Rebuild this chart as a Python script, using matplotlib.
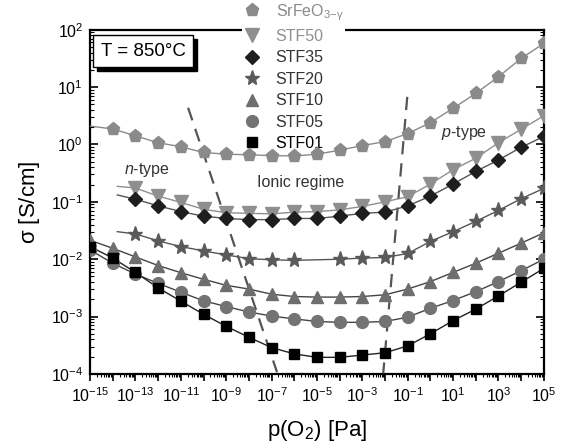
import numpy as np
import matplotlib
matplotlib.use("Agg")
import matplotlib.pyplot as plt
from matplotlib.patches import Rectangle
from matplotlib.ticker import LogLocator, NullFormatter

plt.rcParams["font.family"] = ["Liberation Sans", "DejaVu Sans"]
plt.rcParams["mathtext.fontset"] = "custom"
plt.rcParams["mathtext.rm"] = "Liberation Sans"
plt.rcParams["mathtext.it"] = "Liberation Sans:italic"
plt.rcParams["mathtext.default"] = "regular"

# ── data (log10 of sigma) ─────────────────────────────────────────────
dec_srfeo = np.arange(-14, 6)
log_srfeo = [0.27, 0.15, 0.03, -0.04, -0.14, -0.17, -0.18, -0.195, -0.20, -0.17,
             -0.10, -0.02, 0.05, 0.19, 0.38, 0.63, 0.89, 1.18, 1.50, 1.76]
dec_stf50 = np.arange(-13, 6)
log_stf50 = [-0.76, -0.90, -1.01, -1.13, -1.19, -1.20, -1.21, -1.18, -1.17,
             -1.14, -1.08, -1.00, -0.91, -0.69, -0.44, -0.24, 0.03, 0.265, 0.50]
dec_stf35 = np.arange(-13, 6)
log_stf35 = [-0.955, -1.07, -1.17, -1.25, -1.29, -1.31, -1.31, -1.29, -1.29,
             -1.25, -1.20, -1.18, -1.07, -0.90, -0.69, -0.47, -0.27, -0.05, 0.14]
dec_stf20 = [-13, -12, -11, -10, -9, -8, -7, -6, -4, -3, -2, -1, 0, 1, 2, 3, 4, 5]
log_stf20 = [-1.56, -1.68, -1.78, -1.855, -1.925, -1.99, -2.01, -2.02, -2.00,
             -1.98, -1.97, -1.90, -1.69, -1.52, -1.34, -1.15, -0.945, -0.765]
dec_stf10 = np.arange(-15, 6)
log_stf10 = [-1.67, -1.81, -1.96, -2.11, -2.235, -2.35, -2.455, -2.52, -2.61, -2.65,
             -2.66, -2.66, -2.65, -2.62, -2.52, -2.39, -2.23, -2.07, -1.895, -1.72, -1.54]
dec_stf05 = np.arange(-15, 6)
log_stf05 = [-1.84, -2.07, -2.26, -2.42, -2.575, -2.725, -2.825, -2.92, -2.99, -3.04,
             -3.085, -3.10, -3.10, -3.085, -3.01, -2.855, -2.72, -2.565, -2.39, -2.20, -2.00]
dec_stf01 = np.arange(-15, 6)
log_stf01 = [-1.78, -1.98, -2.23, -2.50, -2.73, -2.96, -3.17, -3.36, -3.54, -3.65,
             -3.71, -3.71, -3.67, -3.63, -3.51, -3.30, -3.07, -2.87, -2.64, -2.40, -2.16]

# where the fit lines start ahead of the first marker
line_start = {
    "srfeo": (-15.0, 0.32),
    "stf50": (-13.8, -0.73),
    "stf35": (-13.8, -0.88),
    "stf20": (-13.8, -1.52),
}

# guide lines bounding the ionic regime
left_guide_dec = [-10.68, -6.76]
left_guide_log = [0.64, -3.97]
right_guide_dec = [-1.02, -2.08]
right_guide_log = [0.83, -3.99]

labels = [r"SrFeO$_{3\mathrm{-}\gamma}$", "STF50", "STF35", "STF20", "STF10", "STF05", "STF01"]

series = [
    ("srfeo", dec_srfeo, log_srfeo, "p", "#8a8a8a", "#8a8a8a", 9.5, "#8a8a8a"),
    ("stf50", dec_stf50, log_stf50, "v", "#8f8f8f", "#8f8f8f", 9.5, "#8f8f8f"),
    ("stf35", dec_stf35, log_stf35, "D", "#1e1e1e", "#555555", 7.0, "#333333"),
    ("stf20", dec_stf20, log_stf20, "*", "#5a5a5a", "#555555", 11.0, "#333333"),
    ("stf10", dec_stf10, log_stf10, "^", "#6e6e6e", "#444444", 9.0, "#333333"),
    ("stf05", dec_stf05, log_stf05, "o", "#737373", "#444444", 8.5, "#333333"),
    ("stf01", dec_stf01, log_stf01, "s", "#000000", "#222222", 7.5, "#000000"),
]

# ── plot ───────────────────────────────────────────────────────────────
fig = plt.figure(figsize=(5.63, 4.45), dpi=100)
ax = fig.add_axes([0.160, 0.1596, 0.806, 0.7737])

handles = []
for (key, dec, lg, mk, col, lcol, ms, tcol), lab in zip(series, labels):
    dec = list(dec)
    lg = list(lg)
    lx, ly = dec, lg
    if key in line_start:
        lx = [line_start[key][0]] + dec
        ly = [line_start[key][1]] + lg
    ax.plot(10.0 ** np.array(lx), 10.0 ** np.array(ly), "-", color=lcol, lw=1.0, zorder=4)
    h, = ax.plot(10.0 ** np.array(dec), 10.0 ** np.array(lg), linestyle="none",
                 marker=mk, ms=ms, color=col, mec=col, label=lab, zorder=5)
    handles.append(h)

ax.plot(10.0 ** np.array(left_guide_dec), 10.0 ** np.array(left_guide_log),
        color="#555555", lw=1.6, dashes=(6, 4), zorder=4)
ax.plot(10.0 ** np.array(right_guide_dec), 10.0 ** np.array(right_guide_log),
        color="#555555", lw=1.6, dashes=(6, 4), zorder=4)

ax.set_xscale("log")
ax.set_yscale("log")
ax.set_xlim(1e-15, 1e5)
ax.set_ylim(1e-4, 1e2)

xt_exp = np.arange(-15, 6)
ax.set_xticks(10.0 ** xt_exp,
              [f"$10^{{{e}}}$" if e % 2 else "" for e in xt_exp])
yt_exp = np.arange(-4, 3)
ax.set_yticks(10.0 ** yt_exp, [f"$10^{{{e}}}$" for e in yt_exp])
ax.xaxis.set_minor_locator(LogLocator(base=10, subs=np.arange(2, 10), numticks=40))
ax.xaxis.set_minor_formatter(NullFormatter())
ax.yaxis.set_minor_locator(LogLocator(base=10, subs=np.arange(2, 10), numticks=20))
ax.yaxis.set_minor_formatter(NullFormatter())

ax.tick_params(axis="x", which="major", direction="out", length=5, width=1.2, labelsize=11.5, pad=4)
ax.tick_params(axis="x", which="minor", direction="out", length=2.5, width=0.8)
ax.tick_params(axis="y", which="major", direction="in", length=6, width=1.2, labelsize=11.5,
               right=True, pad=5)
ax.tick_params(axis="y", which="minor", direction="in", length=3, width=0.8, right=True)
for s in ax.spines.values():
    s.set_linewidth(1.6)

ax.set_xlabel(r"p(O$_2$) [Pa]", fontsize=16, labelpad=9)
ax.set_ylabel(r"$\sigma$ [S/cm]", fontsize=16, labelpad=6)

ax.text(0.125, 0.592, r"$\it{n}$-type", transform=ax.transAxes, fontsize=11.5,
        ha="center", va="center", color="#333333")
ax.text(0.465, 0.557, "Ionic regime", transform=ax.transAxes, fontsize=11.5,
        ha="center", va="center", color="#333333")
ax.text(0.824, 0.7, r"$\it{p}$-type", transform=ax.transAxes, fontsize=11.5,
        ha="center", va="center", color="#333333")

# temperature box with drop shadow
bx, by, bw, bh = 93 / 563, 1 - 67 / 445, 100 / 563, 32 / 445
fig.patches.append(Rectangle((bx + 4 / 563, by - 4 / 445), bw, bh, transform=fig.transFigure,
                             facecolor="black", edgecolor="black", zorder=5))
fig.patches.append(Rectangle((bx, by), bw, bh, transform=fig.transFigure,
                             facecolor="white", edgecolor="black", lw=1.0, zorder=6))
fig.text(bx + bw / 2, by + bh / 2, "T = 850°C", fontsize=13.5, ha="center", va="center", zorder=7)

# legend sits over the top spine but under the data lines
leg = ax.legend(handles=handles, loc="upper left", bbox_to_anchor=(0.335, 1.085),
                frameon=True, facecolor="white", edgecolor="none", framealpha=1.0,
                fontsize=11.5, handlelength=1.0, handletextpad=1.0, labelspacing=0.4,
                borderpad=0.1, borderaxespad=0.0)
leg.set_zorder(3)
for txt, (_, _, _, _, _, _, _, tcol) in zip(leg.get_texts(), series):
    txt.set_color(tcol)

fig.savefig("out.png", dpi=100)
